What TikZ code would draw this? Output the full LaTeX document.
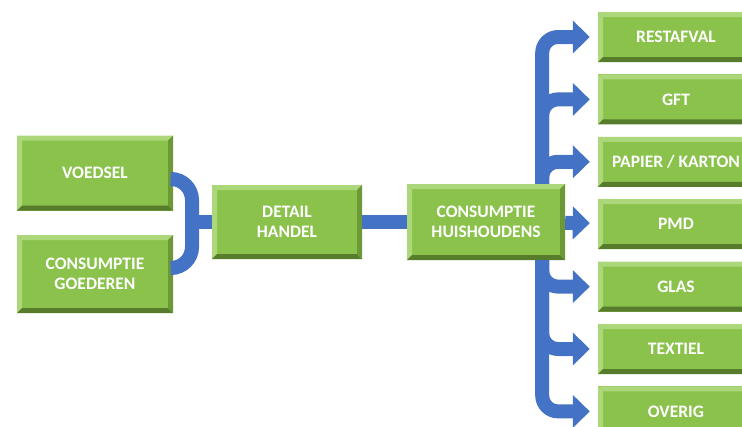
\documentclass[tikz,border=0pt]{standalone}
\usepackage{fontspec}
\setmainfont{Carlito}
\usepackage{tikz}
\usetikzlibrary{calc, positioning, arrows.meta}
\definecolor{BoxGreen}{RGB}{138, 194, 76}
\definecolor{BevelLight}{RGB}{172, 215, 122}
\definecolor{BevelDark}{RGB}{86, 124, 44}
\definecolor{BevelMid}{RGB}{108, 152, 56}
\definecolor{FlowBlue}{RGB}{68, 114, 196}

\tikzset{
    wastebox/.style={rectangle, fill=BoxGreen, text=white, align=center, inner sep=0pt,
        font=\bfseries\fontsize{17.5}{20.5}\selectfont,
        path picture={
            \fill[BevelLight] (path picture bounding box.north west) -- (path picture bounding box.north east)
                -- ([shift={(-5pt,-5pt)}]path picture bounding box.north east) -- ([shift={(5pt,-5pt)}]path picture bounding box.north west) -- cycle;
            \fill[BevelLight] (path picture bounding box.north west) -- (path picture bounding box.south west)
                -- ([shift={(5pt,5pt)}]path picture bounding box.south west) -- ([shift={(5pt,-5pt)}]path picture bounding box.north west) -- cycle;
            \fill[BevelDark] (path picture bounding box.south west) -- (path picture bounding box.south east)
                -- ([shift={(-5pt,5pt)}]path picture bounding box.south east) -- ([shift={(5pt,5pt)}]path picture bounding box.south west) -- cycle;
            \fill[BevelMid] (path picture bounding box.north east) -- (path picture bounding box.south east)
                -- ([shift={(-5pt,5pt)}]path picture bounding box.south east) -- ([shift={(-5pt,-5pt)}]path picture bounding box.north east) -- cycle;
        }},
    sidebox/.style={wastebox, minimum width=156pt, minimum height=50pt},
    band/.style={draw=FlowBlue, line width=14pt},
    flow/.style={band, rounded corners=16pt, shorten >=8pt, -{Triangle[width=32pt, length=17pt]}}
}

\begin{document}
\begin{tikzpicture}[x=1pt, y=-1pt]
    \useasboundingbox (0,0) rectangle (742,426);
    \clip (0,0) rectangle (742,426);

    % Bronnen
    \node[wastebox, minimum width=156pt, minimum height=75pt] (voedsel) at (95,173) {VOEDSEL};
    \node[wastebox, minimum width=156pt, minimum height=78pt] (goederen) at (95,274) {CONSUMPTIE\\GOEDEREN};
    \node[wastebox, minimum width=150pt, minimum height=74pt] (handel) at (287,222) {DETAIL\\HANDEL};
    \node[wastebox, minimum width=158pt, minimum height=76pt] (huis) at (486,222) {CONSUMPTIE\\HUISHOUDENS};

    % Afvalstromen
    \node[sidebox] (restafval) at (676,37) {RESTAFVAL};
    \node[sidebox, below=12pt of restafval] (gft) {GFT};
    \node[sidebox, below=12pt of gft] (papier) {PAPIER / KARTON};
    \node[sidebox, below=12pt of papier] (pmd) {PMD};
    \node[sidebox, below=12pt of pmd] (glas) {GLAS};
    \node[sidebox, below=12pt of glas] (textiel) {TEXTIEL};
    \node[sidebox, below=12pt of textiel] (overig) {OVERIG};

    % Samenvoegen
    \coordinate (join) at (192,222);
    \draw[band, rounded corners=21pt] ([yshift=-6pt]voedsel.east) -| (join) |- ([yshift=6pt]goederen.east);
    \draw[band] (join) -- (handel);
    \draw[band] (handel) -- (huis);

    % Vertakkingen
    \coordinate (trunktop) at ([xshift=-23pt]huis.north east);
    \coordinate (trunkbot) at ([xshift=-23pt]huis.south east);
    \draw[flow] (trunktop) |- (restafval);
    \draw[flow] (trunktop) |- (gft);
    \draw[flow] (trunktop) |- (papier);
    \draw[flow] (huis) -- (pmd);
    \draw[flow] (trunkbot) |- (glas);
    \draw[flow] (trunkbot) |- (textiel);
    \draw[flow] (trunkbot) |- (overig);
\end{tikzpicture}
\end{document}
